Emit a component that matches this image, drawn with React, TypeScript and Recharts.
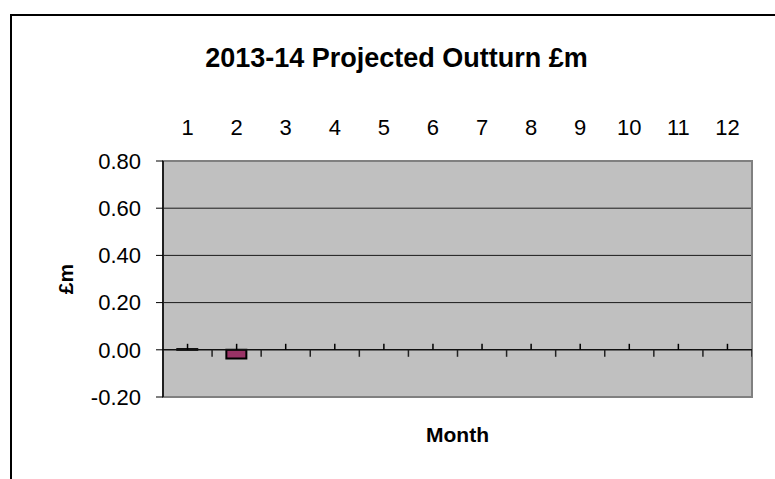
import React, { useLayoutEffect } from 'react';
import {
  ComposedChart,
  Bar,
  XAxis,
  YAxis,
  CartesianGrid,
  ReferenceLine,
  ReferenceArea,
  Scatter,
} from 'recharts';

// ---- data ----
const months: number[] = [1, 2, 3, 4, 5, 6, 7, 8, 9, 10, 11, 12];
const outturn: (number | null)[] = [0.003, -0.037, null, null, null, null, null, null, null, null, null, null];
const yTicks: number[] = [-0.2, 0, 0.2, 0.4, 0.6, 0.8];
const gridValues: number[] = [0.2, 0.4, 0.6];
const chartTitle = '2013-14 Projected Outturn £m';
const yTitle = '£m';
const xTitle = 'Month';

const data = months.map((m, i) => ({ month: m, value: outturn[i] }));
// tick marks on the category axis that crosses at zero
const centerMarks = months.map((m) => ({ month: m, t: 0 }));
const boundaryMarks = [months[0] - 0.5, ...months.map((m) => m + 0.5)].map((b) => ({ month: b, t: 0 }));

const FONT = "'Liberation Sans', Arial, sans-serif";

const UpTick = (p: any) =>
  p.cx == null ? <g /> : <line x1={p.cx} x2={p.cx} y1={p.cy} y2={p.cy - 6} stroke="#000" strokeWidth={1.5} />;
const DownTick = (p: any) =>
  p.cx == null ? <g /> : <line x1={p.cx} x2={p.cx} y1={p.cy} y2={p.cy + 7} stroke="#222" strokeWidth={1.5} />;

const W = 775;
const H = 479;

export default function App() {
  useLayoutEffect(() => {
    document.documentElement.style.overflow = 'hidden';
    document.body.style.overflow = 'hidden';
  }, []);
  return (
    <div
      style={{
        position: 'fixed',
        left: 0,
        top: 0,
        width: W,
        height: H,
        overflow: 'hidden',
        background: '#fff',
        fontFamily: FONT,
      }}
    >
      <div style={{ position: 'absolute', left: 0, top: 0 }}>
        <ComposedChart width={W} height={H} data={data} margin={{ top: 101, right: 23, bottom: 82, left: 8 }}>
          <CartesianGrid
            fill="#C0C0C0"
            fillOpacity={1}
            vertical={false}
            horizontalValues={gridValues}
            stroke="#1a1a1a"
            strokeWidth={1}
          />
          <ReferenceArea
            x1={0.5}
            x2={12.5}
            y1={-0.2}
            y2={0.8}
            fill="none"
            stroke="#808080"
            strokeWidth={2}
            ifOverflow="visible"
          />
          <XAxis
            type="number"
            dataKey="month"
            orientation="top"
            height={60}
            domain={[0.5, 12.5]}
            ticks={months}
            allowDataOverflow
            interval={0}
            axisLine={false}
            tickLine={false}
            tickSize={0}
            tickMargin={26}
            tick={{ fill: '#000', fontSize: 22, fontFamily: FONT }}
          />
          <YAxis
            width={155}
            domain={[-0.2, 0.8]}
            ticks={yTicks}
            allowDataOverflow
            interval={0}
            tickFormatter={(v: number) => v.toFixed(2)}
            tick={{ fill: '#000', fontSize: 22, fontFamily: FONT }}
            tickSize={7}
            tickMargin={15}
            axisLine={{ stroke: '#000', strokeWidth: 1.5 }}
            tickLine={{ stroke: '#000', strokeWidth: 1 }}
          />
          <ReferenceLine y={0} stroke="#111" strokeWidth={1.5} ifOverflow="visible" />
          <Bar dataKey="value" fill="#993366" stroke="#000" strokeWidth={2} barSize={20} isAnimationActive={false} />
          <Scatter data={centerMarks} dataKey="t" shape={UpTick} isAnimationActive={false} />
          <Scatter data={boundaryMarks} dataKey="t" shape={DownTick} isAnimationActive={false} />
        </ComposedChart>
      </div>
      <svg width={W} height={H} style={{ position: 'absolute', left: 0, top: 0, pointerEvents: 'none' }}>
        <path d={`M11 ${H} L11 15 L${W} 15`} fill="none" stroke="#000" strokeWidth={2} />
        <text x={396.5} y={67} textAnchor="middle" fontFamily={FONT} fontSize={27} fontWeight="bold" fill="#000">
          {chartTitle}
        </text>
        <text
          x={73}
          y={279}
          transform="rotate(-90 73 279)"
          textAnchor="middle"
          fontFamily={FONT}
          fontSize={21}
          fontWeight="bold"
          fill="#000"
        >
          {yTitle}
        </text>
        <text x={457.5} y={442} textAnchor="middle" fontFamily={FONT} fontSize={21} fontWeight="bold" fill="#000">
          {xTitle}
        </text>
      </svg>
    </div>
  );
}
